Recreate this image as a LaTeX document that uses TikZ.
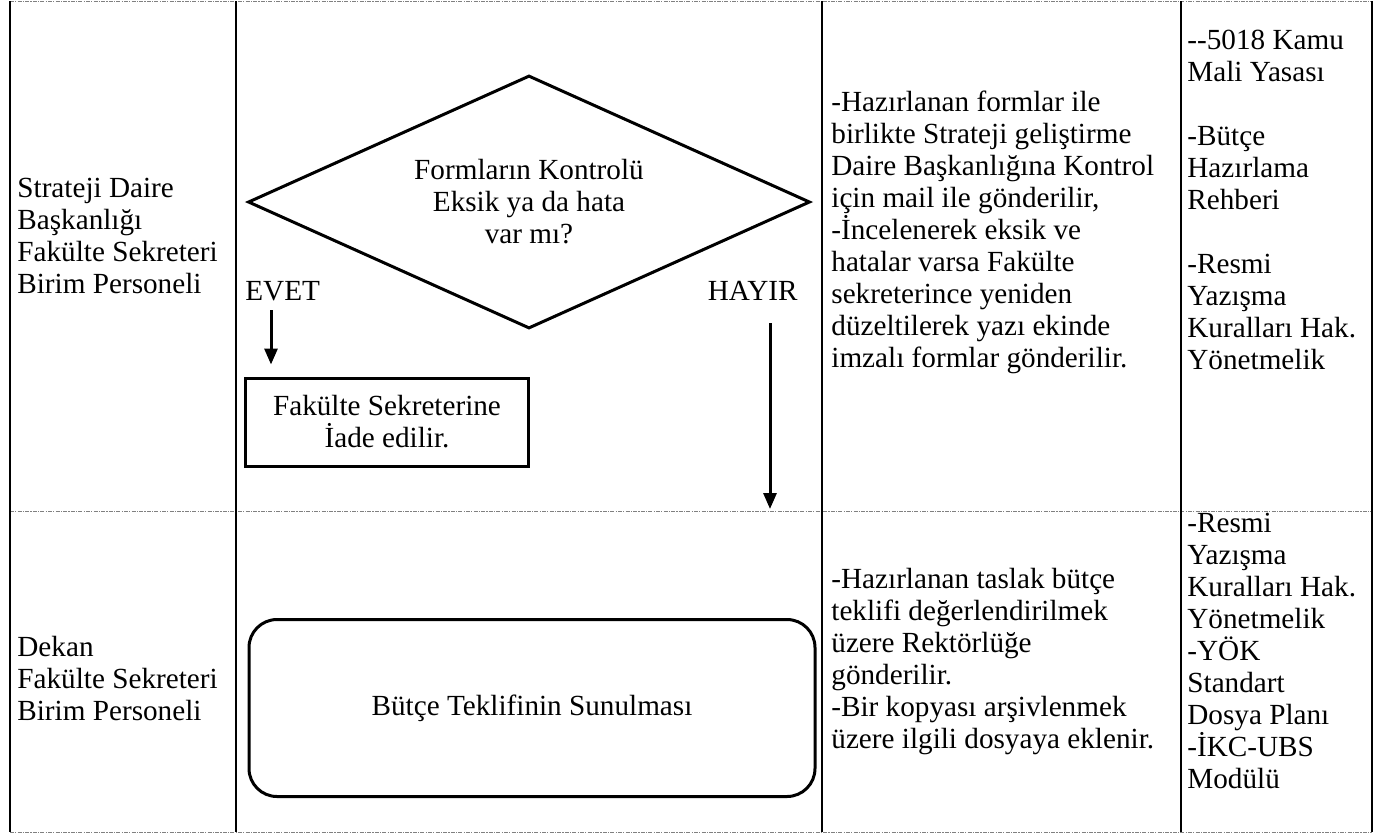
\documentclass[tikz,border=0pt]{standalone}
\usepackage{fontspec}
\setmainfont{Liberation Serif}
\usepackage{tikz}
\usetikzlibrary{positioning, shapes.geometric, arrows.meta}

\tikzset{
  celltext/.style={inner sep=0pt, align=left, anchor=west, font=\fontsize{14.6}{16}\selectfont},
  flowbox/.style={draw, line width=1.5pt, inner sep=0pt, align=center, font=\fontsize{14.6}{16}\selectfont},
  flowarrow/.style={-{Triangle[length=8pt, width=6.5pt]}, line width=1.5pt},
  rowline/.style={gray, line width=0.5pt, dash pattern=on 2pt off 0.6pt on 0.6pt off 0.6pt},
  colline/.style={black, line width=1pt}
}

\begin{document}
\begin{tikzpicture}[x=0.5pt, y=-0.5pt, line cap=butt, line join=miter]
             \useasboundingbox (0,0) rectangle (1383,837);
             % row separators
             \foreach \y in {1, 511, 832}
               \draw[rowline] (10,\y) -- (1372,\y);
             % column separators
             \foreach \x in {10, 236, 822, 1181, 1372}
               \draw[colline] (\x,1) -- (\x,832);
             % responsible units
             \node[celltext] (birim1) at (17,236) {Strateji Daire\\Başkanlığı\\Fakülte Sekreteri\\Birim Personeli};
             \node[celltext] (birim2) at (17,678) {Dekan\\Fakülte Sekreteri\\Birim Personeli};
             % decision
             \node[flowbox, shape=diamond, aspect=2.2, minimum width=281pt, minimum height=126.5pt] (kontrol) at (529,202)
               {Formların Kontrolü\\Eksik ya da hata\\var mı?};
             \node[celltext] (evet) at (245,291) {EVET};
             \node[celltext, anchor=east] (hayir) at (798,291) {HAYIR};
             % returned to the secretary
             \node[flowbox, minimum width=141.5pt, minimum height=44pt] (iade) at (387,422)
               {Fakülte Sekreterine\\İade edilir.};
             % submission
             \node[flowbox, rounded corners=14pt, minimum width=283pt, minimum height=88.5pt] (sunum) at (532,708)
               {Bütçe Teklifinin Sunulması};
             % arrows
             \coordinate (evetbas) at (271,310);
             \coordinate (hayirbas) at (770,323);
             \coordinate (hayirson) at (770,509);
             \draw[flowarrow] (evetbas) -- (evetbas |- iade.north) [shorten >=6pt];
             \draw[flowarrow] (hayirbas) -- (hayirson);
             % explanations
             \node[celltext] (aciklama1) at (831,232) {-Hazırlanan formlar ile\\birlikte Strateji geliştirme\\Daire Başkanlığına Kontrol\\için mail ile gönderilir,\\-İncelenerek eksik ve\\hatalar varsa Fakülte\\sekreterince yeniden\\düzeltilerek yazı ekinde\\imzalı formlar gönderilir.};
             \node[celltext] (aciklama2) at (831,662) {-Hazırlanan taslak bütçe\\teklifi değerlendirilmek\\üzere Rektörlüğe\\gönderilir.\\-Bir kopyası arşivlenmek\\üzere ilgili dosyaya eklenir.};
             % documents
             \node[celltext] (belge1) at (1187,200) {-{}-5018 Kamu\\Mali Yasası\\[16pt]-Bütçe\\Hazırlama\\Rehberi\\[16pt]-Resmi\\Yazışma\\Kuralları Hak.\\Yönetmelik};
             \node[celltext] (belge2) at (1187,651) {-Resmi\\Yazışma\\Kuralları Hak.\\Yönetmelik\\-YÖK\\Standart\\Dosya Planı\\-İKC-UBS\\Modülü};
     \end{tikzpicture}
\end{document}
